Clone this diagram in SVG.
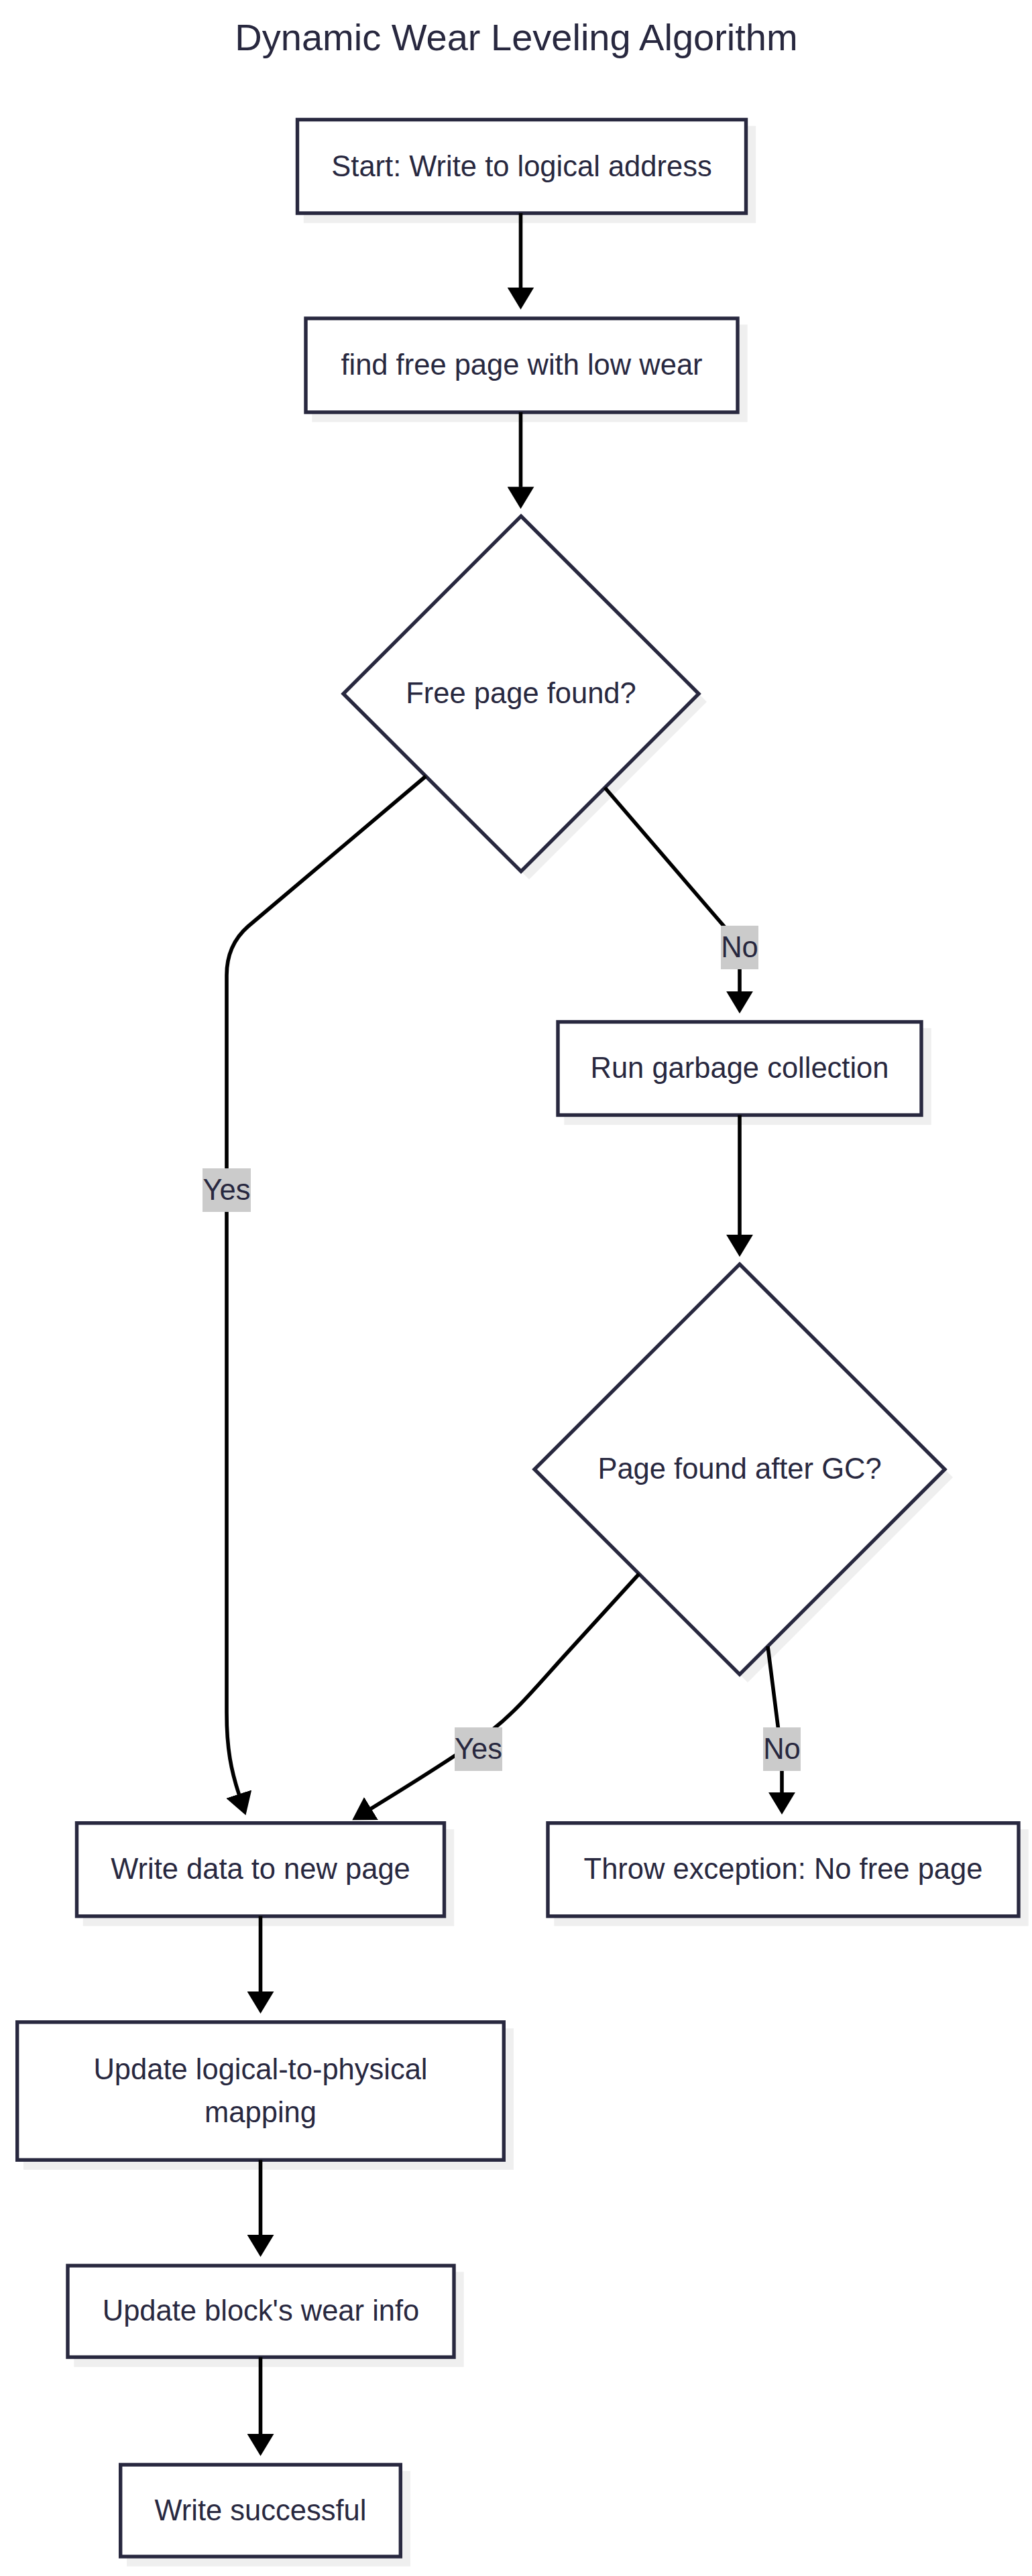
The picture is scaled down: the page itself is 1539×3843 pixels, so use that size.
<svg xmlns="http://www.w3.org/2000/svg" width="1539" height="3843" viewBox="0 0 1539 3843">
<defs>
<style>
.node{fill:#ffffff;stroke:#28283f;stroke-width:5.4}
.shadow{fill:#efefef;stroke:none}
.txt{font-family:"Liberation Sans",Arial,Helvetica,sans-serif;font-size:43.5px;fill:#28283f;text-anchor:middle}
.title{font-family:"Liberation Sans",Arial,Helvetica,sans-serif;font-size:56px;fill:#28283f;text-anchor:middle}
.edge{fill:none;stroke:#000000;stroke-width:5.6;marker-end:url(#ah)}
.lbl{fill:#cbcbcb;stroke:none}
</style>
<marker id="ah" markerUnits="userSpaceOnUse" markerWidth="33" markerHeight="40" viewBox="0 0 32.6 39.4" refX="0.5" refY="19.7" orient="auto">
<path d="M0,0 L32.6,19.7 L0,39.4 z" fill="#000000"/>
</marker>
</defs>
<rect width="1539" height="3843" fill="#ffffff"/>
<text class="title" x="770" y="75">Dynamic Wear Leveling Algorithm</text>

<g id="node-start">
<rect class="shadow" x="452.8" y="187.8" width="674.4" height="144.9"/>
<rect class="node" x="443.5" y="178.5" width="669" height="139.5"/>
<text class="txt" x="778" y="262.5">Start: Write to logical address</text>
</g>

<g id="node-find">
<rect class="shadow" x="465.3" y="484.3" width="649.4" height="145.4"/>
<rect class="node" x="456" y="475" width="644" height="140"/>
<text class="txt" x="778" y="559">find free page with low wear</text>
</g>

<g id="node-decision1">
<polygon class="shadow" points="789,782 1054,1047 789,1312 524,1047"/>
<polygon class="node" points="777,770 1042,1035 777,1300 512,1035"/>
<text class="txt" x="777" y="1049">Free page found?</text>
</g>

<g id="node-gc">
<rect class="shadow" x="841.3" y="1533.8" width="547.4" height="144.4"/>
<rect class="node" x="832" y="1524.5" width="542" height="139"/>
<text class="txt" x="1103" y="1608">Run garbage collection</text>
</g>

<g id="node-decision2">
<polygon class="shadow" points="1115,1898 1421,2204 1115,2510 809,2204"/>
<polygon class="node" points="1103,1886 1409,2192 1103,2498 797,2192"/>
<text class="txt" x="1103" y="2206">Page found after GC?</text>
</g>

<g id="node-write">
<rect class="shadow" x="123.8" y="2729" width="553.4" height="144.4"/>
<rect class="node" x="114.5" y="2719.7" width="548" height="139"/>
<text class="txt" x="388.5" y="2803">Write data to new page</text>
</g>

<g id="node-throw">
<rect class="shadow" x="826.3" y="2729" width="707.4" height="144.4"/>
<rect class="node" x="817" y="2719.7" width="702" height="139"/>
<text class="txt" x="1168" y="2803">Throw exception: No free page</text>
</g>

<g id="node-mapping">
<rect class="shadow" x="35" y="3026" width="731" height="211"/>
<rect class="node" x="25.7" y="3016.7" width="725.6" height="205.6"/>
<text class="txt" x="388.5" y="3102">Update logical-to-physical</text>
<text class="txt" x="388.5" y="3166">mapping</text>
</g>

<g id="node-wear">
<rect class="shadow" x="110.3" y="3389.3" width="581.4" height="141.9"/>
<rect class="node" x="101" y="3380" width="576" height="136.5"/>
<text class="txt" x="389" y="3462">Update block's wear info</text>
</g>

<g id="node-success">
<rect class="shadow" x="189" y="3686.3" width="423" height="142.4"/>
<rect class="node" x="179.7" y="3677" width="417.6" height="137"/>
<text class="txt" x="388.5" y="3760">Write successful</text>
</g>

<g id="edges">
<path class="edge" d="M776.5,318 L776.5,429.2"/>
<path class="edge" d="M776.5,615 L776.5,726.7"/>
<path class="edge" d="M902,1175 L1085,1388 Q1103,1410 1103,1440 L1103,1479.4"/>
<path class="edge" d="M635,1158 L370,1382 Q338,1410 338,1455 L338,2555 C338,2610 345,2642 356.4,2677"/>
<path class="edge" d="M1103,1663.5 L1103,1842.5"/>
<path class="edge" d="M953,2348 L840,2472 C795,2522 770,2552 735,2580 C700,2606 640,2645 553,2698.3"/>
<path class="edge" d="M1145,2456 L1162,2590 Q1166,2615 1166,2640 L1166,2674.5"/>
<path class="edge" d="M388.5,2858.5 L388.5,2971.5"/>
<path class="edge" d="M388.5,3222.3 L388.5,3334.5"/>
<path class="edge" d="M388.5,3516.5 L388.5,3631.5"/>
</g>

<g id="edge-labels">
<g id="label-no-1"><rect class="lbl" x="1075" y="1381" width="56" height="65"/><text class="txt" x="1103" y="1428">No</text></g>
<g id="label-yes-1"><rect class="lbl" x="302" y="1743" width="72" height="65"/><text class="txt" x="338" y="1790">Yes</text></g>
<g id="label-yes-2"><rect class="lbl" x="678" y="2577" width="71" height="65"/><text class="txt" x="713.5" y="2624">Yes</text></g>
<g id="label-no-2"><rect class="lbl" x="1138" y="2577" width="56" height="65"/><text class="txt" x="1166" y="2624">No</text></g>
</g>
</svg>
